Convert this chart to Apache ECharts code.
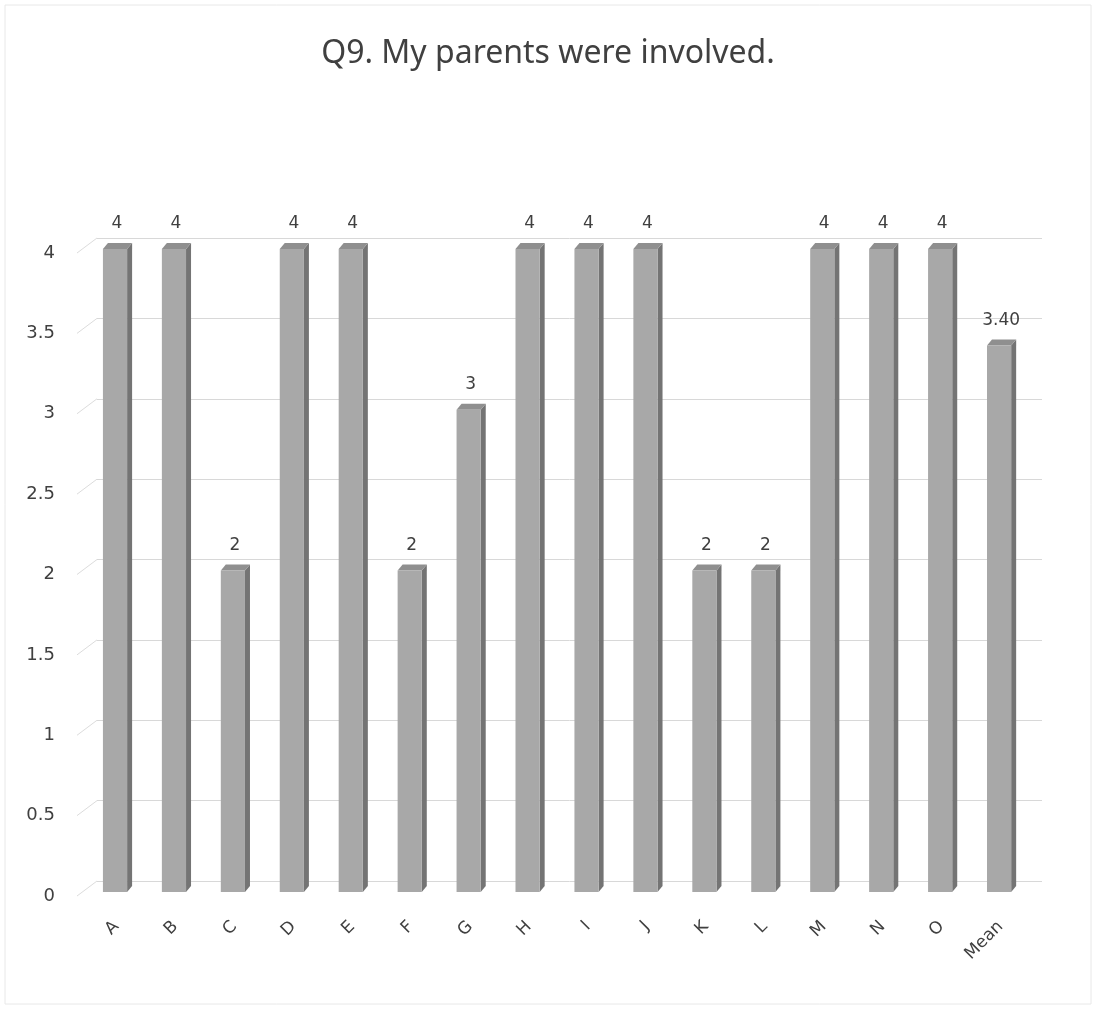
<!DOCTYPE html>
<html>
<head>
<meta charset="utf-8">
<script src="https://cdn.jsdelivr.net/npm/echarts@6/dist/echarts.min.js"></script>
<style>html,body{margin:0;padding:0;background:#fff;}#main{width:1096px;height:1009px;}</style>
</head>
<body>
<div id="main"></div>
<script>
const categories = ['A','B','C','D','E','F','G','H','I','J','K','L','M','N','O','Mean'];
const values = [4,4,2,4,4,2,3,4,4,4,2,2,4,4,4,3.40];
const yTicks = [0,0.5,1,1.5,2,2.5,3,3.5,4];

const FONT = '"Noto Sans", sans-serif';
const AXFONT = '"DejaVu Sans", sans-serif';
const TXT = '#404040';
const chart = echarts.init(document.getElementById('main'), null, {renderer:'canvas'});

function barItem(params, api) {
  const idx = api.value(0), v = api.value(1);
  const p0 = api.coord([idx, 0]);
  const p1 = api.coord([idx, v]);
  const bw = api.size([1, 0])[0];
  const fw = bw * 0.41;           // front face width
  const dx = 5, dy = 6;           // depth offset
  const xl = p0[0] - fw * 0.56, xr = xl + fw;
  const yt = p1[1], yb = p0[1];
  const label = categories[idx] === 'Mean' ? v.toFixed(2) : String(v);
  return {
    type: 'group',
    children: [
      {type:'polygon', shape:{points:[[xr,yt],[xr+dx,yt-dy],[xr+dx,yb-dy],[xr,yb]]}, style:{fill:'#747474'}},
      {type:'polygon', shape:{points:[[xl,yt],[xl+dx,yt-dy],[xr+dx,yt-dy],[xr,yt]]}, style:{fill:'#8f8f8f'}},
      {type:'rect', shape:{x:xl, y:yt, width:fw, height:yb-yt}, style:{fill:'#a8a8a8'}},
      {type:'text', style:{text:label, x:(xl+xr)/2 + 2, y:yt - 25, align:'center', verticalAlign:'middle', fill:TXT, font:'17px ' + AXFONT}}
    ]
  };
}

function sideLine(params, api) {
  const v = api.value(0);
  const p = api.coord([0, v]);
  const bw = api.size([1, 0])[0];
  const x = p[0] - bw / 2;
  return {type:'line', shape:{x1:x, y1:p[1], x2:x-20, y2:p[1]+15}, style:{stroke:'#dcdcdc', lineWidth:1}};
}

chart.setOption({
  animation: false,
  backgroundColor: '#fff',
  title: {text:'Q9. My parents were involved.', left:'center', top:33,
    textStyle:{fontFamily:FONT, fontSize:32, fontWeight:'normal', color:TXT}},
  graphic: [{type:'rect', shape:{x:5, y:5, width:1086, height:999}, style:{fill:null, stroke:'#e8e8e8', lineWidth:1}, silent:true}],
  grid: [
    {left:97, right:54, top:238, bottom:128},
    {left:87, right:66, top:249, bottom:117}
  ],
  xAxis: [
    {type:'category', gridIndex:0, data:categories, show:false},
    {type:'category', gridIndex:1, data:categories,
      axisLine:{show:false}, axisTick:{show:false},
      axisLabel:{rotate:45, interval:0, margin:32, color:TXT, fontFamily:AXFONT, fontSize:17}}
  ],
  yAxis: [
    {type:'value', gridIndex:0, min:0, max:4, interval:0.5,
      axisLabel:{show:false}, axisLine:{show:false}, axisTick:{show:false},
      splitLine:{lineStyle:{color:'#d8d8d8', width:1}}},
    {type:'value', gridIndex:1, min:0, max:4, interval:0.5,
      axisLine:{show:false}, axisTick:{show:false}, splitLine:{show:false},
      axisLabel:{color:TXT, fontFamily:AXFONT, fontSize:18, margin:32, verticalAlign:'top', lineHeight:8}}
  ],
  series: [
    {type:'custom', xAxisIndex:0, yAxisIndex:0, renderItem:sideLine, data:yTicks.map(t=>[t]), silent:true, z:1},
    {type:'custom', xAxisIndex:1, yAxisIndex:1, renderItem:barItem,
      data:values.map((v,i)=>[i,v]), encode:{x:0, y:1}, z:3}
  ]
});
</script>
</body>
</html>
